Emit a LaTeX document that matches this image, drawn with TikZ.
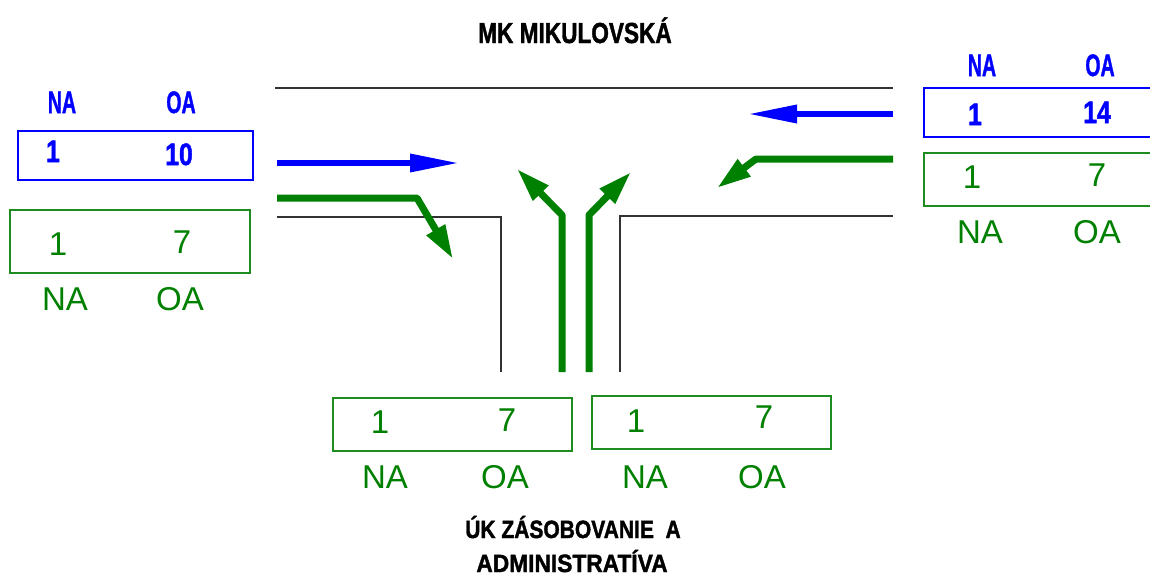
\documentclass[tikz,border=0pt]{standalone}
\usepackage{fontspec}
\usepackage{graphicx}
\setmainfont{Liberation Sans}
\newfontfamily\heavyfont[FakeBold=1.6]{Liberation Sans Bold}
\usetikzlibrary{arrows.meta}
\definecolor{blu}{RGB}{0,0,255}
\definecolor{grn}{RGB}{0,128,0}
\definecolor{bgrn}{RGB}{30,140,30}
\definecolor{roadc}{RGB}{50,50,50}
\begin{document}
\begin{tikzpicture}[x=1pt,y=-1pt,
  road/.style={draw=roadc,line width=1.8pt},
  gbox/.style={draw=bgrn,line width=2pt,minimum width=239pt,minimum height=53pt,inner sep=0pt},
  bbox/.style={draw=blu,line width=2pt,minimum width=235pt,minimum height=49pt,inner sep=0pt},
  gtxt/.style={text=grn,font=\fontsize{33}{33}\selectfont,anchor=base,inner sep=0pt},
  btxt/.style={text=blu,font=\fontsize{31}{31}\heavyfont,anchor=base,inner sep=0pt},
  ttl/.style={font=\fontsize{29}{29}\heavyfont,anchor=base,inner sep=0pt},
  barr/.style={draw=blu,line width=6.5pt,-{Triangle[length=50pt,width=17pt]}},
  garr/.style={draw=grn,line width=7pt,line join=round,-{Triangle[length=34pt,width=20pt]}}]
\useasboundingbox (0,0) rectangle (1150,576);
\clip (0,0) rectangle (1150,576);

% titles
\node[ttl] (top) at (575,43) {\scalebox{0.78}[1]{MK MIKULOVSKÁ}};
\node[ttl,font=\fontsize{25}{25}\heavyfont] (bot1) at (573,538) {\scalebox{0.84}[1]{ÚK ZÁSOBOVANIE\ \ A}};
\node[ttl,font=\fontsize{25}{25}\heavyfont] (bot2) at (572,572) {\scalebox{0.91}[1]{ADMINISTRATÍVA}};

% road edges
\coordinate (r1a) at (275,88); \coordinate (r1b) at (893,88);
\coordinate (r2a) at (277,217); \coordinate (r2b) at (501,217); \coordinate (r2c) at (501,372);
\coordinate (r3a) at (893,216); \coordinate (r3b) at (620,216); \coordinate (r3c) at (620,372);
\draw[road] (r1a) -- (r1b);
\draw[road] (r2a) -- (r2b) -- (r2c);
\draw[road] (r3a) -- (r3b) -- (r3c);

% left boxes
\node[btxt] (naL) at (62,113) {\scalebox{0.63}[1]{NA}};
\node[btxt] (oaL) at (181,113) {\scalebox{0.63}[1]{OA}};
\node[bbox] (boxLb) at (135.5,155) {};
\node[btxt] (n1Lb) at (53,162) {\scalebox{0.8}[1]{1}};
\node[btxt] (n2Lb) at (179,165) {\scalebox{0.8}[1]{10}};
\node[gbox,minimum width=240pt,minimum height=63pt] (boxLg) at (130,241.5) {};
\node[gtxt] (n1Lg) at (58,255) {1};
\node[gtxt] (n2Lg) at (182,253) {7};
\node[gtxt] (naLg) at (65,310) {NA};
\node[gtxt] (oaLg) at (180,310) {OA};

% right boxes
\node[btxt] (naR) at (982,76) {\scalebox{0.63}[1]{NA}};
\node[btxt] (oaR) at (1100,76) {\scalebox{0.63}[1]{OA}};
\node[bbox,minimum width=240pt] (boxRb) at (1044,112.5) {};
\node[btxt] (n1Rb) at (975,125) {\scalebox{0.8}[1]{1}};
\node[btxt] (n2Rb) at (1097,123) {\scalebox{0.8}[1]{14}};
\node[gbox,minimum width=240pt] (boxRg) at (1044,179.5) {};
\node[gtxt] (n1Rg) at (972,188) {1};
\node[gtxt] (n2Rg) at (1097,186) {7};
\node[gtxt] (naRg) at (980,243) {NA};
\node[gtxt] (oaRg) at (1097,243) {OA};

% bottom boxes
\node[gbox] (boxB1) at (452.5,424.5) {};
\node[gtxt] (n1B1) at (380,433) {1};
\node[gtxt] (n2B1) at (507,431) {7};
\node[gtxt] (naB1) at (385,488) {NA};
\node[gtxt] (oaB1) at (505,488) {OA};
\node[gbox] (boxB2) at (711.5,422.5) {};
\node[gtxt] (n1B2) at (636,432) {1};
\node[gtxt] (n2B2) at (764,428) {7};
\node[gtxt] (naB2) at (645,488) {NA};
\node[gtxt] (oaB2) at (762,488) {OA};

% movements
\coordinate (bL0) at (277,163); \coordinate (bL1) at (460,163);
\draw[barr] (bL0) -- (bL1);
\coordinate (bR0) at (893,114); \coordinate (bR1) at (747,114);
\draw[barr] (bR0) -- (bR1);

\coordinate (gL0) at (277,198); \coordinate (gL1) at (417,198); \coordinate (gL2) at (453,259);
\draw[garr] (gL0) -- (gL1) -- (gL2);
\coordinate (gR0) at (893,159); \coordinate (gR1) at (756,159); \coordinate (gR2) at (717,188);
\draw[garr] (gR0) -- (gR1) -- (gR2);

\coordinate (gU0) at (562,372); \coordinate (gU1) at (562,215); \coordinate (gU2) at (517,169);
\draw[garr] (gU0) -- (gU1) -- (gU2);
\coordinate (gV0) at (589,372); \coordinate (gV1) at (589,215); \coordinate (gV2) at (631,172);
\draw[garr] (gV0) -- (gV1) -- (gV2);
\end{tikzpicture}
\end{document}
